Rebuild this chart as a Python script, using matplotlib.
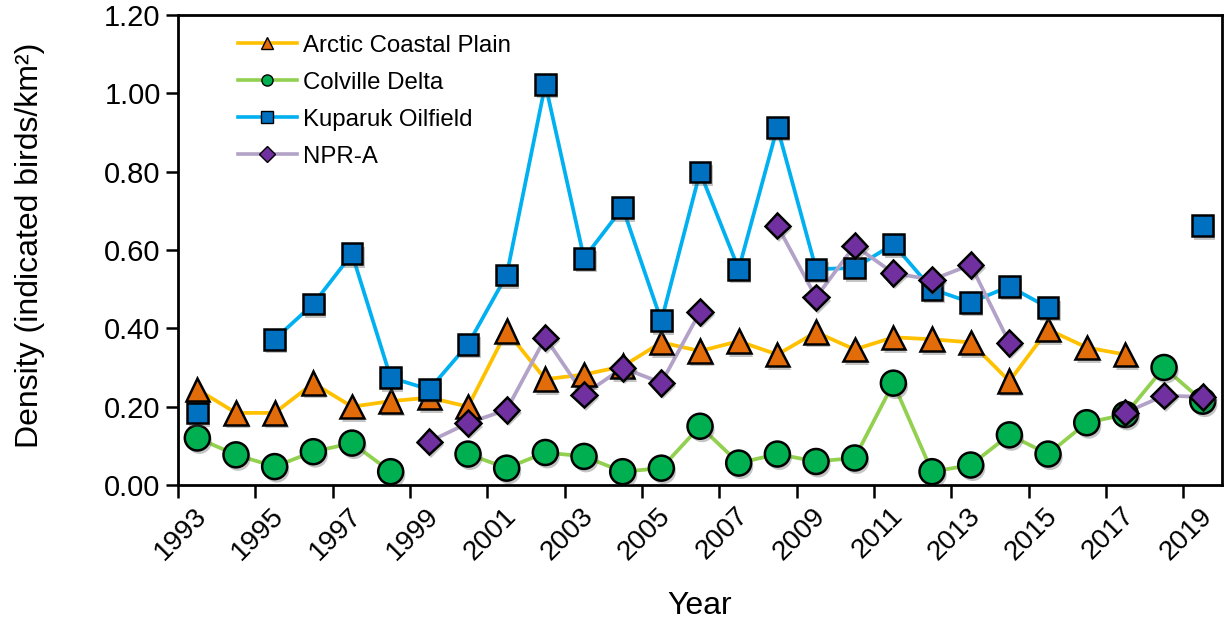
import numpy as np
import matplotlib
matplotlib.use("Agg")
import matplotlib.pyplot as plt
import matplotlib.patheffects as pe

plt.rcParams['font.family'] = ['Liberation Sans', 'DejaVu Sans']

nan = np.nan
years = list(range(1993, 2020))

arctic = [0.244, 0.184, 0.184, 0.26, 0.20, 0.214, 0.223, 0.20, 0.393, 0.27,
          0.282, 0.303, 0.364, 0.342, 0.367, 0.333, 0.39, 0.346, 0.377, 0.372,
          0.364, 0.265, 0.397, 0.351, 0.333, nan, nan]
colville = [0.12, 0.077, 0.047, 0.085, 0.107, 0.034, nan, 0.079, 0.043, 0.083,
            0.073, 0.034, 0.043, 0.15, 0.056, 0.079, 0.06, 0.069, 0.26, 0.034,
            0.051, 0.128, 0.079, 0.159, 0.18, 0.30, 0.214]
kuparuk = [0.184, nan, 0.372, 0.462, 0.59, 0.274, 0.244, 0.359, 0.536, 1.023,
           0.579, 0.708, 0.419, 0.799, 0.551, 0.913, 0.551, 0.554, 0.615, 0.50,
           0.466, 0.507, 0.453, nan, nan, nan, 0.662]
npra = [nan, nan, nan, nan, nan, nan, 0.111, 0.158, 0.192, 0.376,
        0.231, 0.299, 0.261, 0.442, nan, 0.662, 0.479, 0.611, 0.541, 0.524,
        0.562, 0.363, nan, nan, 0.185, 0.228, 0.225]

series = [
    ("Arctic Coastal Plain", arctic, "#FFC000", "#E36C0A", "^", 17),
    ("Colville Delta", colville, "#92D050", "#00B050", "o", 18),
    ("Kuparuk Oilfield", kuparuk, "#00B0F0", "#0070C0", "s", 15),
    ("NPR-A", npra, "#B3A2C7", "#7030A0", "D", 13),
]

fig = plt.figure(figsize=(12.25, 6.21), dpi=100)
ax = fig.add_axes([0.1453, 0.219, 0.8523, 0.757])

x = np.arange(len(years))
shadow = [pe.SimplePatchShadow(offset=(1.5, -2.5), shadow_rgbFace="0.35", alpha=0.35), pe.Normal()]

handles = []
for label, vals, lc, mc, mk, ms in series:
    v = np.array(vals, dtype=float)
    ax.plot(x, v, color=lc, lw=2.7, zorder=2)
    ax.plot(x, v, ls="none", marker=mk, ms=ms, mfc=mc, mec="black", mew=1.8,
            path_effects=shadow, zorder=3)
    h, = ax.plot([], [], color=lc, lw=2.6, marker=mk, ms=8, mfc=mc, mec="black", mew=1.0)
    h.set_label(label)
    handles.append(h)

ax.set_xlim(-0.5, len(years) - 0.5)
ax.set_ylim(0, 1.2)
yt = np.arange(0, 1.21, 0.2)
ax.set_yticks(yt)
ax.set_yticklabels([f"{t:.2f}" for t in yt], fontsize=21)

# ticks sit on category boundaries, labels under every other year
ax.set_xticks(x[::2] - 0.5)
ax.set_xticklabels([])
for i in x[::2]:
    ax.text(i - 0.1, -0.045, str(years[i]), rotation=45, ha="right", va="top",
            rotation_mode="anchor", fontsize=20, transform=ax.transData, clip_on=False)

ax.tick_params(axis="both", direction="out", length=9, width=1.8)
for s in ax.spines.values():
    s.set_linewidth(2)

ax.set_xlabel("Year", fontsize=23)
ax.xaxis.set_label_coords(0.5, -0.225)
ax.set_ylabel("Density (indicated birds/km²)", fontsize=23)
ax.yaxis.set_label_coords(-0.127, 0.51)

ax.legend(handles=handles, loc="upper left", bbox_to_anchor=(0.048, 0.978), borderaxespad=0,
          frameon=False, fontsize=17.3, handlelength=2.45, labelspacing=0.62, handletextpad=0.25)

fig.savefig("out.png", dpi=100)
